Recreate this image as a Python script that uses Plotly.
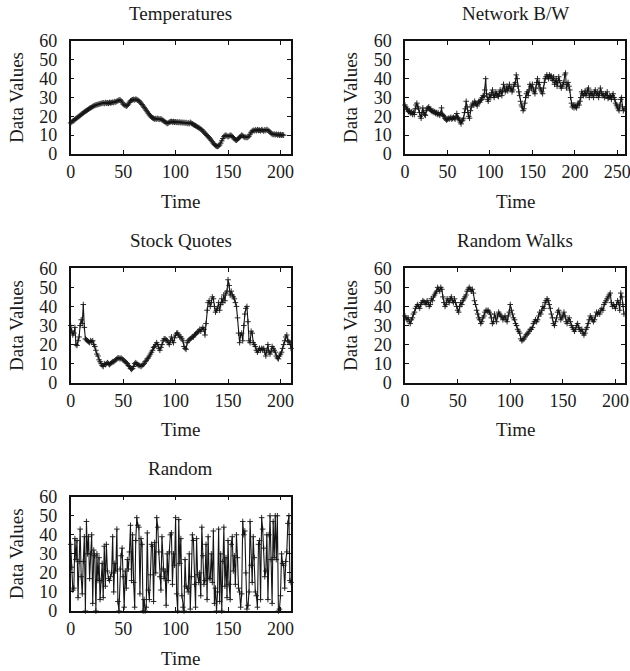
import plotly.graph_objects as go

# ---- data -------------------------------------------------------------
temperatures = [
    16.5, 17, 17.5, 17.8, 18.3, 18.8, 19.2, 19.6, 20, 20.5,
    21, 21.4, 21.8, 22.3, 22.7, 23, 23.4, 23.8, 24.2, 24.5,
    24.8, 25.2, 25.5, 25.8, 26, 26.2, 26.3, 26.5, 26.7, 26.8,
    27, 27.2, 26.8, 27.3, 27, 27.2, 26.9, 27.4, 27.1, 27.3,
    27.5, 27.3, 27.8, 27.6, 28, 28.3, 28.6, 28.8, 28.2, 27.5,
    26.5, 26, 25.8, 25.4, 25.8, 26.5, 27.5, 28.2, 28.5, 28.8,
    29, 28.7, 29.1, 28.9, 28.6, 28.2, 27.6, 27, 26.3, 25.5,
    24.8, 24, 23.2, 22.4, 21.6, 20.8, 20.2, 19.6, 19.2, 18.9,
    18.6, 18.8, 18.5, 18.9, 18.6, 18.4, 18.7, 18.2, 17.8, 17.4,
    17, 16.6, 16.2, 16.5, 16.9, 17.1, 17.3, 17, 17.2, 16.9,
    17.1, 16.8, 17, 16.7, 17, 16.6, 16.9, 16.5, 16.8, 16.4,
    16.7, 16.2, 16.6, 16.1, 16.8, 16.3, 16, 15.6, 15.3, 15,
    14.7, 14.3, 14, 13.6, 13.2, 12.8, 12.2, 11.6, 11, 10.4,
    9.8, 9.2, 8.6, 8, 7.3, 6.5, 5.7, 5, 4.5, 4.2,
    4, 4.2, 4.8, 5.8, 7, 8.2, 9.2, 9.8, 10, 9.6,
    9.2, 9.5, 10, 9.8, 9.3, 8.7, 8, 7.5, 7.3, 7.8,
    8.3, 8.8, 9.4, 10, 9.7, 9.2, 8.8, 9, 8.7, 9,
    9.5, 10.5, 11.5, 12.2, 12.6, 12.3, 12.8, 12.4, 12.9, 12.5,
    12.7, 12.3, 12.9, 12.6, 12.2, 12.8, 12.5, 13, 12.6, 12.2,
    11.6, 11, 10.6, 10.3, 10.6, 10.2, 10.5, 10.1, 10.4, 10,
    10.3, 10, 10.2, 10,
]

network_bw = [
    26, 25, 24, 23.5, 22.5, 23, 22, 21.5, 22.5, 21,
    22, 21, 24, 26, 27, 25, 24, 22, 20, 19,
    22, 24.5, 22, 21, 20.5, 23, 24, 24.5, 25, 24,
    23.5, 23, 22.5, 23, 22, 22.5, 21.5, 22, 21, 22,
    21, 20.5, 21.5, 24.5, 21, 20.5, 20, 19, 18.5, 18,
    18.5, 19, 18.5, 19, 19.5, 18.5, 19, 19.5, 19, 18.5,
    20, 21.5, 19.5, 19, 18, 17, 16, 17.5, 18, 19,
    22, 24, 28, 25, 22, 20, 19, 23, 25, 26,
    27, 26, 28, 27, 26.5, 25.5, 27, 28, 27.5, 28.5,
    29, 30, 31, 30.5, 34, 40, 32, 29, 28, 30,
    31.5, 30, 32.5, 34, 31, 30, 31.5, 33, 32, 31,
    30.5, 32, 34, 33, 31, 33.5, 37, 35, 33, 34,
    36, 33.5, 35, 37, 34.5, 35, 33, 34, 36, 37,
    38, 42, 40, 36, 33, 31, 28, 26, 25, 23,
    24, 27, 30, 32, 33, 31, 34, 37, 36, 35,
    37, 34, 33, 32, 35, 38, 40, 37, 38, 35,
    34, 33, 32, 35, 38, 40, 41, 42, 41, 40,
    42, 41, 41.5, 40, 39, 41, 37, 38, 40, 36,
    38, 41, 39, 36, 35, 36, 37, 38, 42, 43,
    35, 37, 38, 36, 34, 30, 27, 25, 26, 24.5,
    26, 25, 24.5, 26, 27, 26, 28, 30, 33, 32,
    31, 32, 33.5, 31, 32, 34, 35, 30, 32, 33,
    31, 32, 30, 33, 34, 32, 31, 33, 30, 32,
    35, 33, 31, 32, 31, 30, 32, 31, 33, 29.5,
    30, 31, 30.5, 29, 31, 32, 30, 29, 27, 26,
    25, 24, 23, 26, 29, 30, 25, 23, 24,
]

stock_quotes = [
    30, 27, 25, 26, 29, 20, 19.5, 22, 24, 30,
    33, 31, 41, 29, 23, 22.5, 22, 21.5, 21, 22,
    21.5, 22, 20, 19, 17, 15, 14, 12, 11, 10,
    9, 8.5, 10, 9.5, 10, 10.5, 10, 9.5, 10, 10.5,
    11, 11, 11.5, 12, 12.5, 13, 13, 12.5, 13, 12.5,
    12, 11.5, 11, 10.5, 10, 9, 8.5, 7.5, 7, 7.5,
    8.5, 10, 10.5, 10, 9.5, 9, 9, 8.5, 9, 9.5,
    10, 11, 11.5, 12.5, 13, 14, 15, 16, 17, 18.5,
    19, 20, 21, 20, 18, 17, 18.5, 20, 22, 23,
    23, 22.5, 22, 21, 20, 22, 24, 22, 21, 23.5,
    25, 26, 26, 25, 24, 24, 23, 22, 19, 18,
    17.5, 21, 22, 22.5, 23, 23.5, 24, 24, 25, 25.5,
    26, 26.5, 27, 28, 27, 28, 29, 28, 25, 31,
    38, 42, 43, 40, 42, 45, 44, 40, 37, 38,
    39, 42, 38, 41, 44, 42, 46, 43, 47, 48,
    54, 51, 46, 48, 46, 45, 44, 42, 40, 34,
    26, 21, 25, 26, 22, 30, 36, 39, 40, 32,
    22, 21, 27, 26, 21, 20, 19, 17, 16, 17,
    18, 17, 18, 17.5, 18, 16, 14, 17, 20, 16,
    15, 16.5, 19, 18, 17, 16, 14, 13, 12.5, 14,
    15, 16, 18, 20, 22, 24, 25, 22, 21.5, 21,
    18,
]

random_walks = [
    35, 34, 33, 34, 32, 31, 33, 34, 36, 37,
    39, 40, 41, 40, 39, 41, 42, 43, 42.5, 42,
    41, 43, 42, 40, 41, 44, 43, 45, 46, 47,
    48, 50, 49, 48, 50, 49, 45, 42, 40, 41,
    44, 43, 42, 44, 45, 43, 42, 44, 42, 40,
    38, 37, 40, 42, 41, 43, 44, 45, 46, 48,
    49, 50, 49, 48, 49, 47, 43, 41, 38, 36,
    34, 33, 31, 32, 34, 35, 37, 38, 37.5, 38,
    37, 36, 34, 31, 32, 36, 34, 32, 35, 37,
    36, 35, 34.5, 33, 34, 35, 33, 32, 35, 37,
    41, 38, 36, 34, 33, 31, 30, 28, 27, 26,
    23, 22, 22.5, 23, 24, 25, 25.5, 26, 27, 28,
    28, 29, 31, 32, 33, 32, 33, 35, 37, 36,
    38, 40, 39, 42, 43, 44, 43, 41, 39, 36,
    34, 31, 30, 32, 34, 37, 38, 36, 33, 34,
    35, 37, 35, 32, 31, 33, 34, 32, 30, 29,
    28, 27, 28, 30, 31, 29, 28, 27, 28, 26,
    25, 26, 28, 29, 31, 33, 35, 34, 33, 32,
    33, 35, 37, 36, 37, 36, 38, 39, 38, 41,
    42, 43, 44, 45, 46, 47, 42, 40, 41, 40,
    39, 41, 43, 42, 38, 47, 45, 41, 36,
]

random_values = [
    35, 23, 11, 12, 38, 27, 37, 7, 26, 43,
    18, 9, 26, 39, 0, 47, 30, 39, 17, 30,
    40, 4, 32, 29, 0, 30, 16, 28, 6, 16,
    25, 7, 34, 13, 35, 21, 17, 16, 18, 20,
    39, 10, 25, 21, 43, 5, 0, 22, 29, 33,
    18, 2, 21, 12, 27, 22, 31, 45, 16, 40,
    15, 2, 37, 49, 45, 44, 9, 38, 35, 0,
    6, 0, 2, 41, 11, 6, 19, 35, 34, 5,
    36, 20, 49, 44, 31, 18, 11, 39, 22, 17,
    21, 3, 30, 16, 31, 40, 41, 14, 30, 24,
    49, 9, 0, 48, 25, 38, 8, 2, 0, 27,
    13, 12, 10, 30, 1, 18, 40, 37, 14, 2,
    38, 19, 15, 20, 8, 44, 29, 14, 16, 35,
    6, 39, 17, 17, 30, 15, 42, 4, 12, 0,
    10, 43, 5, 30, 0, 26, 44, 13, 28, 7,
    37, 14, 6, 35, 39, 21, 29, 14, 40, 28,
    12, 10, 2, 9, 47, 40, 42, 20, 1, 3,
    10, 47, 24, 15, 39, 28, 10, 8, 2, 35,
    37, 6, 49, 43, 33, 18, 21, 40, 6, 40,
    50, 27, 4, 47, 28, 50, 27, 50, 0, 1,
    8, 30, 25, 24, 12, 26, 31, 46, 50, 16,
    15,
]

titles = ["Temperatures", "Network B/W", "Stock Quotes", "Random Walks", "Random"]
series = [temperatures, network_bw, stock_quotes, random_walks, random_values]
x_max = [210, 259, 210, 209, 210]

# ---- layout -----------------------------------------------------------
W, H = 630, 671
col_px = [(70.7, 291.0), (405.0, 625.0)]
row_px = [(41.0, 154.0), (268.3, 382.7), (496.7, 611.0)]
FONT = "Liberation Serif, Times New Roman, serif"
FS = 19        # titles
TICK_FS = 18   # tick labels
INK = "#1a1a1a"

fig = go.Figure()
layout = dict(
    width=W, height=H,
    margin=dict(l=0, r=0, t=0, b=0),
    paper_bgcolor="white", plot_bgcolor="white",
    showlegend=False,
    font=dict(family=FONT, size=FS, color=INK),
)
annotations = []

for i, (name, vals, xm) in enumerate(zip(titles, series, x_max)):
    r, c = divmod(i, 2)
    x0, x1 = col_px[c]
    y0, y1 = row_px[r]
    k = "" if i == 0 else str(i + 1)
    xa, ya = "x" + k, "y" + k

    fig.add_trace(go.Scatter(
        x=list(range(len(vals))), y=vals,
        xaxis=xa, yaxis=ya,
        mode="lines+markers",
        line=dict(color="#151515", width=1.1),
        marker=dict(symbol="cross-thin", size=4,
                    line=dict(color="#151515", width=0.9)),
        cliponaxis=False,
        hoverinfo="skip",
    ))

    axis_common = dict(
        showline=True, linecolor="#111111", linewidth=1.5, mirror="ticks",
        ticks="inside", ticklen=4, tickwidth=1, tickcolor="#111111",
        showgrid=False, zeroline=False, automargin=False,
        ticklabeloverflow="allow",
        tickfont=dict(family=FONT, size=TICK_FS, color=INK),
    )
    layout["xaxis" + k] = dict(
        axis_common, domain=[x0 / W, x1 / W], anchor=ya,
        range=[0, xm], dtick=50, tick0=0, ticklabelstandoff=1,
    )
    layout["yaxis" + k] = dict(
        axis_common, domain=[1 - y1 / H, 1 - y0 / H], anchor=xa,
        range=[0, 60], dtick=10, tick0=0, ticklabelstandoff=8,
        title=dict(text="Data Values", standoff=11,
                   font=dict(family=FONT, size=FS, color=INK)),
    )

    dx = xa + " domain"
    dy = ya + " domain"
    annotations += [
        dict(text=name, xref=dx, yref=dy, x=0.5, y=1, yshift=28,
             xanchor="center", yanchor="middle", showarrow=False),
        dict(text="Time", xref=dx, yref=dy, x=0.5, y=0, yshift=-47,
             xanchor="center", yanchor="middle", showarrow=False),
    ]

layout["annotations"] = annotations
fig.update_layout(**layout)
fig.write_html("out.html")
